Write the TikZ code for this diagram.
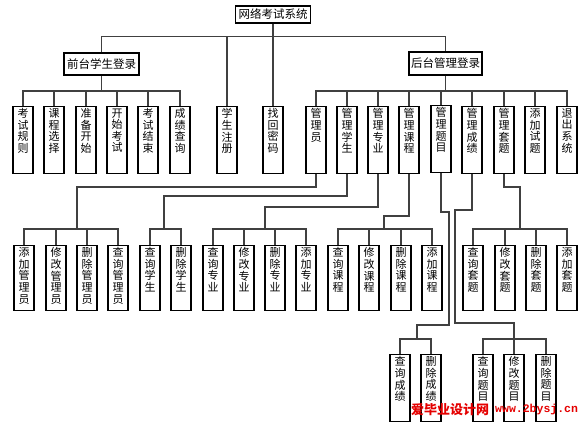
\documentclass[tikz,border=0pt]{standalone}
\usepackage{fontspec}
\newfontfamily\cjk{Noto Sans CJK SC}
\newfontfamily\wmmono{Liberation Mono}
\tikzset{
  conn/.style={line width=1.1pt, draw=black!75},
  hbox/.style={draw=black, line width=1.1pt, font=\cjk\fontsize{11.5}{12}\selectfont, inner sep=0pt},
  leaf/.style={draw=black, line width=1.1pt, anchor=north, inner xsep=4pt, inner ysep=2pt, font=\cjk\fontsize{11}{11.6}\selectfont},
  wmcjk/.style={font=\cjk\bfseries\fontsize{13}{13}\selectfont, text=red!90!black, anchor=west, inner sep=0pt},
  wmlat/.style={font=\wmmono\bfseries\fontsize{11.5}{12}\selectfont, text=red!90!black, anchor=west, inner sep=0pt}
}
\newcommand\vcol[2]{\parbox[t][#1pt][t]{12pt}{\centering #2}}
\newcommand\leafnode[5]{\node[leaf] (#1) at (#2,#3) {\vcol{#4}{#5}};}
\begin{document}
\begin{tikzpicture}[x=1pt,y=-1pt]
\useasboundingbox (0,0) rectangle (585,429);
\fill[white] (0,0) rectangle (585,429);
% top level
\node[hbox, minimum width=75pt, minimum height=17pt] (top) at (273,14.5) {网络考试系统};
\node[hbox, minimum width=75pt, minimum height=22pt] (qt) at (101.5,64) {前台学生登录};
\node[hbox, minimum width=73pt, minimum height=23pt] (ht) at (445.5,63.5) {后台管理登录};
% row 1
\leafnode{ks}{23}{106}{63}{考\\试\\规\\则}
\leafnode{kc}{54}{106}{63}{课\\程\\选\\择}
\leafnode{zb}{86}{106}{63}{准\\备\\开\\始}
\leafnode{kskc}{117}{106}{63}{开\\始\\考\\试}
\leafnode{kj}{148}{106}{63}{考\\试\\结\\束}
\leafnode{cj}{180}{106}{63}{成\\绩\\查\\询}
\leafnode{zc}{227}{106}{63}{学\\生\\注\\册}
\leafnode{zh}{273}{106}{63}{找\\回\\密\\码}
\leafnode{gly}{316}{106}{63}{管\\理\\员}
\leafnode{gxs}{347}{106}{63}{管\\理\\学\\生}
\leafnode{gzy}{378}{106}{63}{管\\理\\专\\业}
\leafnode{gkc}{409}{106}{63}{管\\理\\课\\程}
\leafnode{gtm}{441}{105}{63}{管\\理\\题\\目}
\leafnode{gcj}{472}{106}{63}{管\\理\\成\\绩}
\leafnode{gtt}{504}{106}{63}{管\\理\\套\\题}
\leafnode{tjst}{535}{106}{63}{添\\加\\试\\题}
\leafnode{tc}{567}{106}{63}{退\\出\\系\\统}
% row 2
\leafnode{tjgly}{24}{245}{61}{添\\加\\管\\理\\员}
\leafnode{xggly}{56}{245}{61}{修\\改\\管\\理\\员}
\leafnode{scgly}{87}{245}{61}{删\\除\\管\\理\\员}
\leafnode{cxgly}{118}{245}{61}{查\\询\\管\\理\\员}
\leafnode{cxxs}{150}{245}{61}{查\\询\\学\\生}
\leafnode{scxs}{181}{245}{61}{删\\除\\学\\生}
\leafnode{cxzy}{213}{245}{61}{查\\询\\专\\业}
\leafnode{xgzy}{244}{245}{61}{修\\改\\专\\业}
\leafnode{sczy}{275}{245}{61}{删\\除\\专\\业}
\leafnode{tjzy}{306}{245}{61}{添\\加\\专\\业}
\leafnode{cxkc}{338}{245}{61}{查\\询\\课\\程}
\leafnode{xgkc}{369}{245}{61}{修\\改\\课\\程}
\leafnode{sckc}{401}{245}{61}{删\\除\\课\\程}
\leafnode{tjkc}{432}{245}{61}{添\\加\\课\\程}
\leafnode{cxtt}{473}{245}{61}{查\\询\\套\\题}
\leafnode{xgtt}{505}{245}{61}{修\\改\\套\\题}
\leafnode{sctt}{536}{245}{61}{删\\除\\套\\题}
\leafnode{tjtt}{567}{245}{61}{添\\加\\套\\题}
% row 3
\leafnode{cxcj}{400}{354}{63}{查\\询\\成\\绩}
\leafnode{sccj}{431}{354}{63}{删\\除\\成\\绩}
\leafnode{cxtm}{483}{354}{63}{查\\询\\题\\目}
\leafnode{xgtm}{514}{354}{63}{修\\改\\题\\目}
\leafnode{sctm}{546}{354}{63}{删\\除\\题\\目}
% connectors: top level
\draw[conn] (top.south) -- (zh.north);
\draw[conn] (qt.north) -- ++(0,-16) -| (ht.north);
\draw[conn] (zc.north) -- (227,37);
% front group
\draw[conn] (ks.north) -- ++(0,-15) -| (cj.north);
\foreach \n in {kc,zb,kskc,kj} \draw[conn] (\n.north) -- ++(0,-15);
\draw[conn] (qt.south) -- ++(0,16);
% back group
\draw[conn] (gly.north) -- ++(0,-15) -| (tc.north);
\foreach \n in {gxs,gzy,gkc,gcj,gtt,tjst} \draw[conn] (\n.north) -- ++(0,-15);
\draw[conn] (gtm.north) -- ++(0,-14);
\draw[conn] (ht.south) -- ++(0,16);
% row 2 groups
\draw[conn] (gly.south) |- (77,187) -- (77,229);
\draw[conn] (tjgly.north) -- ++(0,-16) -| (cxgly.north);
\foreach \n in {xggly,scgly} \draw[conn] (\n.north) -- ++(0,-16);
\draw[conn] (gxs.south) |- (164,196) -- (164,229);
\draw[conn] (cxxs.north) -- ++(0,-16) -| (scxs.north);
\draw[conn] (gzy.south) |- (265,207) -- (265,229);
\draw[conn] (cxzy.north) -- ++(0,-16) -| (tjzy.north);
\foreach \n in {xgzy,sczy} \draw[conn] (\n.north) -- ++(0,-16);
\draw[conn] (gkc.south) |- (384,216) -- (384,229);
\draw[conn] (cxkc.north) -- ++(0,-16) -| (tjkc.north);
\foreach \n in {xgkc,sckc} \draw[conn] (\n.north) -- ++(0,-16);
\draw[conn] (gtt.south) |- (520,187) -- (520,229);
\draw[conn] (cxtt.north) -- ++(0,-16) -| (tjtt.north);
\foreach \n in {xgtt,sctt} \draw[conn] (\n.north) -- ++(0,-16);
% row 3 groups
\draw[conn] (gtm.south) |- (449,212) |- (417,325) -- (417,339);
\draw[conn] (cxcj.north) -- ++(0,-15) -| (sccj.north);
\draw[conn] (gcj.south) |- (455,210) |- (514,323) -- (514,339);
\draw[conn] (cxtm.north) -- ++(0,-15) -| (sctm.north);
\draw[conn] (xgtm.north) -- ++(0,-15);
% watermark
\node[wmcjk] (wm1) at (411,410) {爱毕业设计网};
\node[wmlat] (wm2) at (495,410) {www.2bysj.cn};
\end{tikzpicture}
\end{document}
